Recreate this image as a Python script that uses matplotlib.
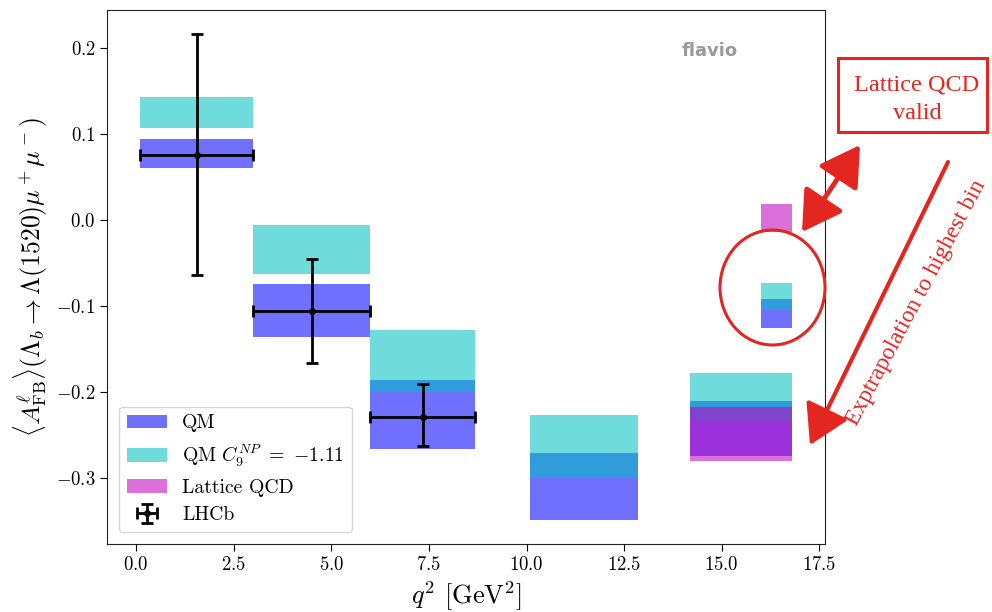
import matplotlib
matplotlib.use("Agg")
import matplotlib.pyplot as plt
from matplotlib.patches import Rectangle, Ellipse, FancyArrowPatch
import numpy as np

plt.rcParams.update({
    "font.family": "serif",
    "font.serif": ["cmr10"],
    "mathtext.fontset": "cm",
    "axes.formatter.use_mathtext": True,
    "axes.unicode_minus": True,
})

# q^2 bins [GeV^2]
bin_lo = [0.1, 3.0, 6.0, 10.09, 14.18, 16.0]
bin_hi = [3.0, 6.0, 8.68, 12.86, 16.81, 16.81]

# QM prediction bands (lower, upper)
qm_lo = [0.0604, -0.1364, -0.2665, -0.3487, -0.2742, -0.1256]
qm_hi = [0.0934, -0.0743, -0.1868, -0.2711, -0.2113, -0.0918]

# QM with C9^NP = -1.11
np_lo = [0.107, -0.0627, -0.2003, -0.3006, -0.2346, -0.1053]
np_hi = [0.142, -0.0063, -0.1279, -0.2269, -0.1783, -0.0735]

# Lattice QCD bands
lat_lo_q2 = [14.18, 16.0]
lat_hi_q2 = [16.81, 16.81]
lat_lo = [-0.2808, -0.0141]
lat_hi = [-0.2179, 0.0177]

# LHCb measurement
lhcb_lo_q2 = [0.1, 3.0, 6.0]
lhcb_hi_q2 = [3.0, 6.0, 8.68]
lhcb_val = [0.0756, -0.1065, -0.2288]
lhcb_err_up = [0.1401, 0.0613, 0.0380]
lhcb_err_dn = [0.1401, 0.0602, 0.0345]

fig = plt.figure(figsize=(9.92, 6.12), dpi=100)
ax = fig.add_axes([0.1082, 0.1111, 0.7235, 0.8729])
for s in ax.spines.values():
    s.set_color("#222222")

alpha = 0.56
for i, (a, b) in enumerate(zip(bin_lo, bin_hi)):
    ax.fill_between([a, b], qm_lo[i], qm_hi[i], color="b", alpha=alpha, lw=0,
                    label="QM" if i == 0 else None)
for i, (a, b) in enumerate(zip(bin_lo, bin_hi)):
    ax.fill_between([a, b], np_lo[i], np_hi[i], color="c", alpha=alpha, lw=0,
                    label=r"QM $C_9^{NP}\ =\ {-}1.11$" if i == 0 else None)
for i, (a, b) in enumerate(zip(lat_lo_q2, lat_hi_q2)):
    ax.fill_between([a, b], lat_lo[i], lat_hi[i], color="m", alpha=alpha, lw=0,
                    label="Lattice QCD" if i == 0 else None)

x_lo = np.array(lhcb_lo_q2)
x_hi = np.array(lhcb_hi_q2)
x_c = 0.5 * (x_lo + x_hi)
ax.errorbar(x_c, lhcb_val, yerr=[lhcb_err_dn, lhcb_err_up],
            xerr=[x_c - x_lo, x_hi - x_c], fmt="o", color="k", ms=4,
            elinewidth=2, capsize=4.5, capthick=2, label="LHCb", zorder=5)

ax.set_xlabel(r"$q^2$ [GeV$^2$]", fontsize=19)
ax.set_ylabel(r"$\langle A_{\rm FB}^{\ell}\rangle(\Lambda_b \to \Lambda(1520)\mu^+\mu^-)$",
              fontsize=18.5)
ax.tick_params(labelsize=13.5, direction="out", length=5)
ax.legend(loc="lower left", fontsize=14.2, handlelength=2.0,
          borderaxespad=0.6)

ax.text(0.8, 0.94, "flavio", transform=ax.transAxes, ha="left", va="top",
        fontsize=13, fontweight="bold", color="#999999", family="DejaVu Sans")

# hand-drawn style notes in the right margin (pixel coordinates)
red = "#e3261f"
ov = fig.add_axes([0, 0, 1, 1], zorder=10)
ov.set_xlim(0, 992)
ov.set_ylim(612, 0)
ov.axis("off")

ov.add_patch(Rectangle((838, 58), 149, 74, fill=False, ec=red, lw=2.2))
ov.text(917, 90, "Lattice QCD", ha="center", va="baseline", color=red,
        fontsize=17.5, family="Liberation Serif")
ov.text(917, 119, "valid", ha="center", va="baseline", color=red,
        fontsize=17.5, family="Liberation Serif")

ov.add_patch(FancyArrowPatch((860, 145), (802, 232),
                             arrowstyle="<|-|>,head_length=1.1,head_width=0.65",
                             mutation_scale=22, color=red, lw=3.5,
                             shrinkA=0, shrinkB=0))
ov.add_patch(FancyArrowPatch((948, 162), (810, 445),
                             arrowstyle="-|>,head_length=1.1,head_width=0.65",
                             mutation_scale=22, color=red, lw=3,
                             shrinkA=0, shrinkB=0))
ov.text(916, 303, "Exptrapolation to highest bin", rotation=62,
        rotation_mode="anchor", ha="center", va="center", color=red,
        fontsize=17, family="Liberation Serif")
ov.add_patch(Ellipse((772.5, 287.5), 105, 115, fill=False, ec=red, lw=2.2))

fig.savefig("out.png", dpi=100)
